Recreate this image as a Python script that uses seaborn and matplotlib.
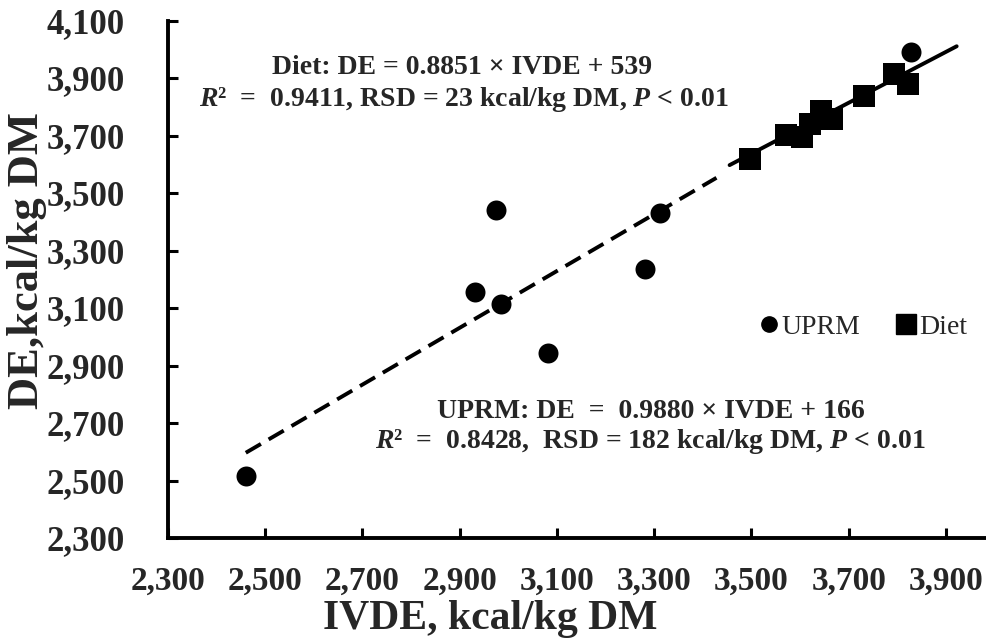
import numpy as np
import pandas as pd
import seaborn as sns
import matplotlib.pyplot as plt
from matplotlib.lines import Line2D

# values
uprm_ivde = [2460, 2931, 2974, 2984, 3081, 3280, 3312, 3829]
uprm_de = [2516, 3156, 3441, 3114, 2943, 3236, 3430, 3990]
diet_ivde = [3497, 3571, 3603, 3620, 3643, 3665, 3732, 3793, 3822]
diet_de = [3617, 3702, 3694, 3740, 3786, 3756, 3837, 3914, 3879]

# regression equations printed on the chart (slope, intercept)
uprm_coef = (0.9880, 166)
diet_coef = (0.8851, 539)
uprm_line_x = [2460, 3428]
diet_line_x = [3455, 3922]

x_ticks = list(range(2300, 4000, 200))
y_ticks = list(range(2300, 4200, 200))

diet_eq = "Diet: DE = 0.8851 × IVDE + 539"
diet_stats = "$R$²  =  0.9411, RSD = 23 kcal/kg DM, $P$ < 0.01"
uprm_eq = "UPRM: DE  =  0.9880 × IVDE + 166"
uprm_stats = "$R$²  =  0.8428,  RSD = 182 kcal/kg DM, $P$ < 0.01"

df = pd.DataFrame({
    "IVDE": uprm_ivde + diet_ivde,
    "DE": uprm_de + diet_de,
    "group": ["UPRM"] * len(uprm_ivde) + ["Diet"] * len(diet_ivde),
})

sns.set_theme(style="ticks")
plt.rcParams["font.family"] = ["Liberation Serif", "DejaVu Serif"]
plt.rcParams["mathtext.fontset"] = "custom"
plt.rcParams["mathtext.it"] = "Liberation Serif:style=italic:weight=bold"
plt.rcParams["mathtext.rm"] = "Liberation Serif:weight=bold"

fig = plt.figure(figsize=(9.87, 6.44), dpi=100)
# axes box in pixels: left 168, bottom 538 from top, 2300..4000 over 826.6 px
ax = fig.add_axes([168 / 987, 106 / 644, 826.6 / 987, 517.5 / 644])

# trend lines
ux = np.array(uprm_line_x)
dx = np.array(diet_line_x)
ax.plot(ux, uprm_coef[0] * ux + uprm_coef[1], color="black", lw=2.8,
        linestyle=(0, (4.5, 2.3)), zorder=2)
ax.plot(dx, diet_coef[0] * dx + diet_coef[1], color="black", lw=2.8, zorder=2)

sns.scatterplot(data=df[df.group == "UPRM"], x="IVDE", y="DE", ax=ax,
                marker="o", s=207, color="black", linewidth=0, zorder=3, legend=False)
sns.scatterplot(data=df[df.group == "Diet"], x="IVDE", y="DE", ax=ax,
                marker="s", s=243, color="black", linewidth=0, zorder=3, legend=False)

ax.set_xlim(2300, 4000)
ax.set_ylim(2300, 4100)
ax.set_xticks(x_ticks)
ax.set_yticks(y_ticks)
ax.set_xticklabels([f"{v:,}" for v in x_ticks], fontsize=24, fontweight="bold")
ax.set_yticklabels([f"{v:,}" for v in y_ticks], fontsize=25, fontweight="bold")
ax.tick_params(axis="both", direction="in", length=7, width=2.2, color="black")
ax.tick_params(axis="x", pad=20)
ax.tick_params(axis="y", pad=31)

for side in ["top", "right"]:
    ax.spines[side].set_visible(False)
for side in ["left", "bottom"]:
    ax.spines[side].set_linewidth(2.8)
    ax.spines[side].set_color("black")

ax.set_xlabel("IVDE, kcal/kg DM", fontsize=30, fontweight="bold")
ax.set_ylabel("DE,kcal/kg DM", fontsize=32, fontweight="bold")
ax.xaxis.set_label_coords((490 - 168) / 826.6, (538 - 619) / 517.5)
ax.yaxis.set_label_coords((27 - 168) / 826.6, (538 - 261) / 517.5)
ax.xaxis.label.set_va("center")
ax.yaxis.label.set_va("center")

fig.text(462 / 987, 1 - 67 / 644, diet_eq, fontsize=20, fontweight="bold", ha="center", va="center")
fig.text(464 / 987, 1 - 100 / 644, diet_stats, fontsize=20, fontweight="bold", ha="center", va="center")
fig.text(651 / 987, 1 - 412 / 644, uprm_eq, fontsize=20, fontweight="bold", ha="center", va="center")
fig.text(650 / 987, 1 - 442 / 644, uprm_stats, fontsize=20, fontweight="bold", ha="center", va="center")

handles = [
    Line2D([], [], marker="o", linestyle="none", color="black", markersize=11),
    Line2D([], [], marker="s", linestyle="none", color="black", markersize=14),
]
ax.legend(handles, ["UPRM", "Diet"], loc="center left",
          bbox_to_anchor=(761 / 987, 1 - 327 / 644), bbox_transform=fig.transFigure,
          frameon=False, ncol=2, handlelength=0.6, handletextpad=0.15,
          columnspacing=1.35, borderpad=0, borderaxespad=0,
          prop={"family": "Liberation Serif", "size": 20})

fig.savefig("out.png", dpi=100)
